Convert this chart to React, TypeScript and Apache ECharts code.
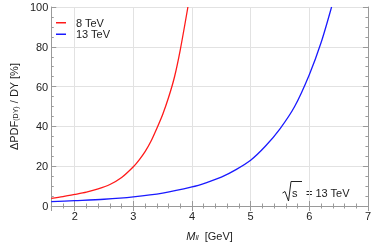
import React, { useEffect, useRef } from "react";
import * as echarts from "echarts";

// 8 TeV curve (red)
const x8 = [1.6, 1.8, 2.0, 2.2, 2.4, 2.6, 2.8, 3.0, 3.1, 3.2, 3.3, 3.4, 3.5, 3.6, 3.7, 3.8, 3.93];
const y8 = [3.8, 4.7, 5.8, 7.0, 8.6, 10.8, 14.3, 19.7, 23.2, 27.3, 32.5, 39, 46, 54.5, 64.7, 78.5, 100];
// 13 TeV curve (blue)
const x13 = [1.6, 2.0, 2.5, 3.0, 3.5, 4.0, 4.25, 4.5, 4.75, 5.0, 5.25, 5.5, 5.75, 6.0, 6.2, 6.38];
const y13 = [2.2, 2.7, 3.4, 4.6, 6.5, 9.6, 11.8, 14.5, 18.3, 23, 30, 38.8, 50, 66, 82, 100];

const seriesNames = ["8 TeV", "13 TeV"];
const colors = ["#ff1a1a", "#1a1aff"];

const FONT = "Liberation Sans";
const FRAME = "#9a9a9a";
const GRIDC = "#e2e2e2";

const intOnly = (v: number) => (Math.abs(v - Math.round(v)) < 1e-6 ? String(Math.round(v)) : "");

export default function App() {
  const ref = useRef<HTMLDivElement>(null);
  useEffect(() => {
    const chart = echarts.init(ref.current!, null, { renderer: "svg" });
    const xBase = { type: "value", min: 1.6, max: 7, gridIndex: 0 };
    const yBase = { type: "value", min: 0, max: 100, gridIndex: 0 };
    const noLabel = { show: false };
    const noSplit = { show: false };
    chart.setOption({
      animation: false,
      textStyle: { fontFamily: FONT },
      grid: { left: 39, right: 4, top: 7, bottom: 35 },
      legend: {
        data: seriesNames,
        left: 56,
        top: 17,
        padding: 0,
        orient: "vertical",
        icon: "rect",
        itemWidth: 10,
        itemHeight: 1.5,
        itemGap: 0,
        textStyle: { fontSize: 11, color: "#222", lineHeight: 11.5, padding: [0, 0, 0, 5], fontFamily: FONT },
      },
      xAxis: [
        {
          ...xBase,
          position: "bottom",
          splitNumber: 5,
          axisLine: { show: true, lineStyle: { color: FRAME, width: 1 } },
          axisTick: { show: true, inside: true, length: 5, lineStyle: { color: FRAME } },
          axisLabel: { formatter: intOnly, color: "#222", fontSize: 11, margin: 4, showMinLabel: false },
          splitLine: { show: true, lineStyle: { color: GRIDC } },
          name: "{i|M}{s|ll}  [GeV]",
          nameLocation: "middle",
          nameGap: 24,
          nameTextStyle: {
            color: "#222",
            fontSize: 11,
            rich: {
              i: { fontStyle: "italic", fontSize: 11, color: "#222", fontFamily: FONT },
              s: { fontStyle: "italic", fontSize: 7, color: "#222", verticalAlign: "bottom", padding: [4, 0, 0, 0], fontFamily: FONT },
            },
          },
        },
        {
          ...xBase,
          position: "bottom",
          interval: 0.2,
          axisLine: { show: false },
          axisTick: { show: true, inside: true, length: 2.5, lineStyle: { color: FRAME } },
          axisLabel: noLabel,
          splitLine: noSplit,
        },
        {
          ...xBase,
          position: "top",
          splitNumber: 5,
          axisLine: { show: true, lineStyle: { color: FRAME, width: 1 } },
          axisTick: { show: true, inside: true, length: 5, lineStyle: { color: FRAME } },
          axisLabel: noLabel,
          splitLine: noSplit,
        },
        {
          ...xBase,
          position: "top",
          interval: 0.2,
          axisLine: { show: false },
          axisTick: { show: true, inside: true, length: 2.5, lineStyle: { color: FRAME } },
          axisLabel: noLabel,
          splitLine: noSplit,
        },
      ],
      yAxis: [
        {
          ...yBase,
          position: "left",
          interval: 20,
          axisLine: { show: true, lineStyle: { color: FRAME, width: 1 } },
          axisTick: { show: true, inside: true, length: 5, lineStyle: { color: FRAME } },
          axisLabel: { color: "#222", fontSize: 11, margin: 3 },
          splitLine: { show: true, lineStyle: { color: GRIDC } },
          name: "ΔPDF{s|(DY)} / DY [%]",
          nameLocation: "middle",
          nameRotate: 90,
          nameGap: 24,
          nameTextStyle: {
            color: "#222",
            fontSize: 11,
            rich: {
              s: { fontSize: 7, color: "#222", padding: [4, 0, 0, 0], fontFamily: FONT },
            },
          },
        },
        {
          ...yBase,
          position: "left",
          interval: 5,
          axisLine: { show: false },
          axisTick: { show: true, inside: true, length: 2.5, lineStyle: { color: FRAME } },
          axisLabel: noLabel,
          splitLine: noSplit,
        },
        {
          ...yBase,
          position: "right",
          interval: 20,
          axisLine: { show: true, lineStyle: { color: FRAME, width: 1 } },
          axisTick: { show: true, inside: true, length: 5, lineStyle: { color: FRAME } },
          axisLabel: noLabel,
          splitLine: noSplit,
        },
        {
          ...yBase,
          position: "right",
          interval: 5,
          axisLine: { show: false },
          axisTick: { show: true, inside: true, length: 2.5, lineStyle: { color: FRAME } },
          axisLabel: noLabel,
          splitLine: noSplit,
        },
      ],
      series: [
        {
          name: seriesNames[0],
          type: "line",
          xAxisIndex: 0,
          yAxisIndex: 0,
          data: x8.map((x, i) => [x, y8[i]]),
          smooth: 0.3,
          showSymbol: false,
          lineStyle: { color: colors[0], width: 1.3 },
          itemStyle: { color: colors[0] },
        },
        {
          name: seriesNames[1],
          type: "line",
          xAxisIndex: 0,
          yAxisIndex: 0,
          data: x13.map((x, i) => [x, y13[i]]),
          smooth: 0.3,
          showSymbol: false,
          lineStyle: { color: colors[1], width: 1.3 },
          itemStyle: { color: colors[1] },
        },
      ],
      graphic: [
        {
          type: "polyline",
          shape: { points: [[282.5, 193], [285, 191.5], [288.5, 201], [291, 181.5], [302, 181.5]] },
          style: { stroke: "#222", lineWidth: 1, fill: null },
        },
        {
          type: "text",
          x: 292,
          y: 192.5,
          style: { text: "s", fontSize: 11, fill: "#222", fontFamily: FONT, verticalAlign: "middle" },
        },
        {
          type: "text",
          x: 306,
          y: 192.5,
          style: { text: "= 13 TeV", fontSize: 11, fill: "#222", fontFamily: FONT, verticalAlign: "middle" },
        },
      ],
    });
    return () => chart.dispose();
  }, []);
  return <div ref={ref} style={{ position: "fixed", left: 0, top: 0, width: 374, height: 246 }} />;
}
